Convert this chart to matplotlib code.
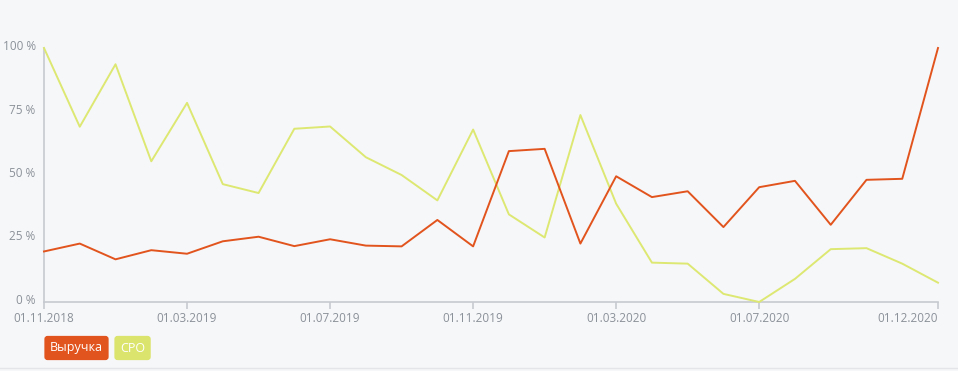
import numpy as np
import matplotlib.pyplot as plt
import matplotlib.transforms as mtransforms

# monthly points, 01.11.2018 .. 01.12.2020
months = ['01.11.2018', '01.12.2018', '01.01.2019', '01.02.2019', '01.03.2019', '01.04.2019',
          '01.05.2019', '01.06.2019', '01.07.2019', '01.08.2019', '01.09.2019', '01.10.2019',
          '01.11.2019', '01.12.2019', '01.01.2020', '01.02.2020', '01.03.2020', '01.04.2020',
          '01.05.2020', '01.06.2020', '01.07.2020', '01.08.2020', '01.09.2020', '01.10.2020',
          '01.11.2020', '01.12.2020']
revenue = [19.9, 23.0, 16.8, 20.4, 19.0, 23.9, 25.7, 22.0, 24.7, 22.2, 21.9, 32.3, 21.9,
           59.4, 60.3, 23.0, 49.5, 41.3, 43.6, 29.5, 45.2, 47.7, 30.4, 48.1, 48.5, 100.0]
cpo = [100.0, 69.0, 93.6, 55.4, 78.4, 46.4, 42.9, 68.2, 69.1, 57.0, 50.0, 40.0, 67.9,
       34.5, 25.4, 73.6, 38.7, 15.5, 15.1, 3.2, 0.0, 9.1, 20.8, 21.2, 15.1, 7.6]
tick_idx = [0, 4, 8, 12, 16, 20, 25]
yticks = [0, 25, 50, 75, 100]
ylabels = ['0 %', '25 %', '50 %', '75 %', '100 %']

RED = '#e2541d'
LIME = '#dde872'
BG = '#f6f7f9'
AXIS = '#c6cad0'
TXT = '#8b9199'

plt.rcParams['font.family'] = ['Open Sans', 'DejaVu Sans']

W, H = 958, 371
fig = plt.figure(figsize=(W / 100, H / 100), dpi=100, facecolor=BG)
ax = fig.add_axes([44 / W, 1 - 302 / H, (938 - 44) / W, (302 - 48) / H])
ax.set_facecolor(BG)

x = np.arange(len(months))
ax.plot(x, cpo, color=LIME, lw=1.4, clip_on=False, zorder=3)
ax.plot(x, revenue, color=RED, lw=1.4, clip_on=False, zorder=4)

ax.set_xlim(0, len(months) - 1)
ax.set_ylim(0, 100)

for s in ['top', 'right']:
    ax.spines[s].set_visible(False)
for s in ['left', 'bottom']:
    ax.spines[s].set_color(AXIS)
    ax.spines[s].set_linewidth(1.2)

ax.set_xticks(tick_idx)
ax.set_xticklabels([months[i] for i in tick_idx])
ax.tick_params(axis='x', direction='out', length=5, width=1.2, color=AXIS,
               labelcolor=TXT, labelsize=8.5, pad=2)
ax.get_xticklabels()[-1].set_horizontalalignment('right')

ax.set_yticks(yticks)
ax.set_yticklabels(ylabels)
ax.tick_params(axis='y', length=0, labelcolor=TXT, labelsize=8.5, pad=6)
shift = mtransforms.ScaledTranslation(0, 3 / 100, fig.dpi_scale_trans)
for lab in ax.get_yticklabels():
    lab.set_transform(lab.get_transform() + shift)

# legend badges
fig.text(50 / W, 1 - 348 / H, 'Выручка', color='white', fontsize=9, va='center', ha='left',
         bbox=dict(boxstyle='round,pad=0.45,rounding_size=0.25', fc=RED, ec='none'))
fig.text(120 / W, 1 - 348 / H, 'CPO', color='white', fontsize=9, va='center', ha='left',
         bbox=dict(boxstyle='round,pad=0.45,rounding_size=0.25', fc='#dbe46c', ec='none'))

# bottom separator line
fig.add_artist(plt.Line2D([0, 1], [1 - 368 / H, 1 - 368 / H], color='#e3e5e8', lw=1))

fig.savefig('out.png', dpi=100, facecolor=BG)
